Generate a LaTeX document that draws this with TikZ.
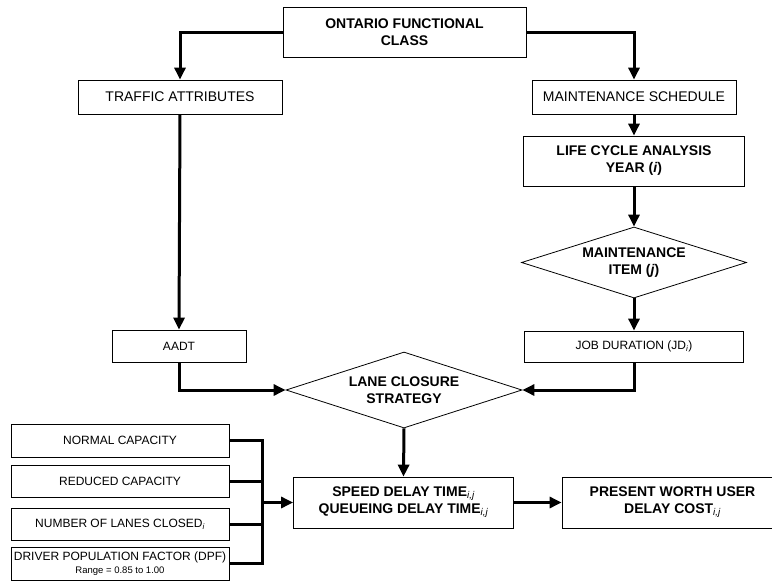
\documentclass[tikz,border=0pt]{standalone}
\usepackage{fontspec}
\setmainfont{Liberation Sans}
\usetikzlibrary{arrows.meta,shapes.geometric}

% thin italic index written below the line
\newcommand{\idx}[1]{\textsubscript{\mdseries\itshape #1}}

\begin{document}
\begin{tikzpicture}[x=1pt,y=-1pt,
  box/.style={draw, rectangle, line width=0.8pt, inner sep=0pt, align=center},
  decision/.style={draw, diamond, aspect=3, line width=0.8pt, inner sep=0pt, align=center},
  bigbold/.style={font=\fontsize{14}{17}\selectfont\bfseries},
  bigplain/.style={font=\fontsize{14}{17}\selectfont},
  small/.style={font=\fontsize{12}{13.5}\selectfont},
  conn/.style={line width=3pt, -{Triangle[length=12pt,width=11pt]}},
  feed/.style={line width=3pt}
]
\useasboundingbox (0,0) rectangle (772,582);

% top of the chart
\node[box,bigbold,minimum width=243,minimum height=50] (ont) at (404.5,32) {ONTARIO FUNCTIONAL\\CLASS};
\node[box,bigplain,minimum width=204,minimum height=34] (ta) at (180,97) {TRAFFIC ATTRIBUTES};
\node[box,bigplain,minimum width=204,minimum height=34] (ms) at (634,97) {MAINTENANCE SCHEDULE};

% maintenance branch
\node[box,bigbold,minimum width=221,minimum height=50] (lca) at (634,161) {LIFE CYCLE ANALYSIS\\YEAR (\textit{i})};
\node[decision,bigbold,minimum width=225,minimum height=71] (mi) at (634,262.5) {MAINTENANCE\\ITEM (\textit{j})};
\node[box,small,minimum width=219,minimum height=31] (jd) at (634,346.5) {JOB DURATION (JD\idx{i})};

% traffic branch
\node[box,small,minimum width=134,minimum height=32] (aadt) at (179,346) {AADT};

% lane closure and delays
\node[decision,bigbold,minimum width=236,minimum height=76] (lcs) at (404,390) {LANE CLOSURE\\STRATEGY};
\node[box,bigbold,minimum width=220,minimum height=51] (sdt) at (403.5,502.5) {SPEED DELAY TIME\idx{i,j}\\QUEUEING DELAY TIME\idx{i,j}};
\node[box,bigbold,minimum width=221,minimum height=51] (pw) at (672.5,502.5) {PRESENT WORTH USER\\DELAY COST\idx{i,j}};

% capacity inputs
\node[box,small,minimum width=218,minimum height=33] (nc) at (120,440.5) {NORMAL CAPACITY};
\node[box,small,minimum width=218,minimum height=32] (rc) at (120,481) {REDUCED CAPACITY};
\node[box,small,minimum width=218,minimum height=32] (nlc) at (120,524) {NUMBER OF LANES CLOSED\idx{i}};
\node[box,small,minimum width=218,minimum height=33] (dpf) at (120,563.5) {DRIVER POPULATION FACTOR (DPF)\\[-1pt]{\fontsize{9.5}{10}\selectfont Range = 0.85 to 1.00}};

% connectors
\draw[conn] (ont.west) -| (ta.north);
\draw[conn] (ont.east) -| (ms.north);
\draw[conn] (ms.south) -- (lca.north);
\draw[conn] (lca.south) -- (mi.north);
\draw[conn] (mi.south) -- (jd.north);
\draw[conn] (ta.south) -- (aadt.north);
\draw[conn] (aadt.south) |- (lcs.west);
\draw[conn] (jd.south) |- (lcs.east);
\draw[conn] (lcs.south) -- (sdt.north);
\draw[conn] (sdt.east) -- (pw.west);

% collector bar for the capacity inputs
\coordinate (busx) at (262,0);
\draw[feed] (nc.east) -| (dpf.east -| busx) -- (dpf.east);
\draw[feed] (rc.east) -- (rc.east -| busx);
\draw[feed] (nlc.east) -- (nlc.east -| busx);
\draw[conn] (sdt.west -| busx) -- (sdt.west);
\end{tikzpicture}
\end{document}
